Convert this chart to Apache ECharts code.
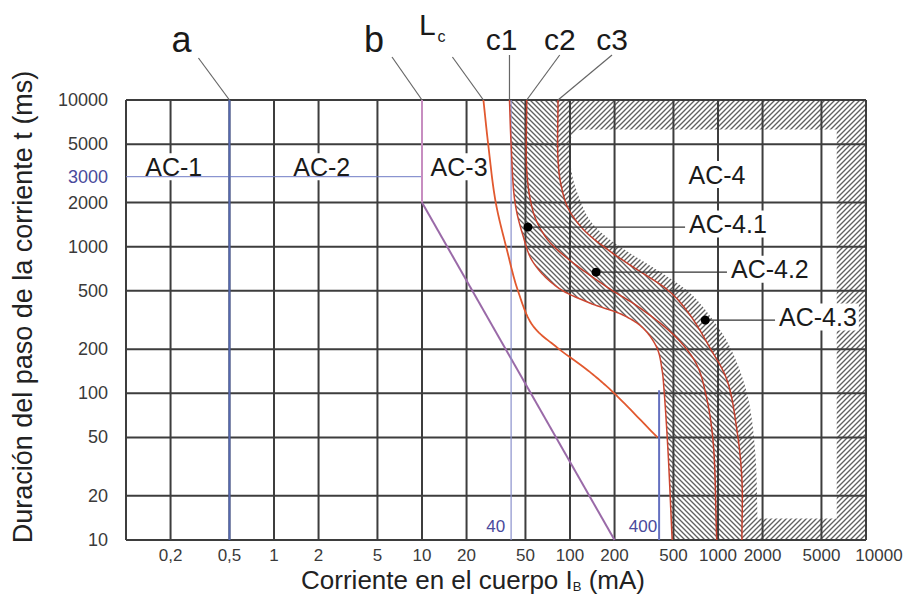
<!DOCTYPE html>
<html lang="es">
<head>
<meta charset="utf-8">
<title>Zonas tiempo-corriente</title>
<script src="https://cdn.jsdelivr.net/npm/echarts@6.0.0/dist/echarts.min.js"></script>
<style>
html,body{margin:0;padding:0;background:#fff;}
#chart{width:908px;height:600px;}
</style>
</head>
<body>
<div id="chart"></div>
<script>
// ---------------- data ----------------
const xGridValues = [0.1, 0.2, 0.5, 1, 2, 5, 10, 20, 50, 100, 200, 500, 1000, 2000, 5000, 10000];
const yGridValues = [10, 20, 50, 100, 200, 500, 1000, 2000, 5000, 10000];
const xTickValues = [0.2, 0.5, 1, 2, 5, 10, 20, 50, 100, 200, 500, 1000, 2000, 5000, 10000];
const xTickLabels = ['0,2', '0,5', '1', '2', '5', '10', '20', '50', '100', '200', '500', '1000', '2000', '5000', '10000'];
const yTickValues = [10, 20, 50, 100, 200, 500, 1000, 2000, 3000, 5000, 10000];
const yTickLabels = ['10', '20', '50', '100', '200', '500', '1000', '2000', '3000', '5000', '10000'];

const curveA = [[0.5, 10], [0.5, 10000]];
const curveBVertical = [[10, 10000], [10, 2000]];
const curveBDiagonal = [[10, 2000], [200, 10]];
const line40 = [[40, 10], [40, 10000]];
const line400 = [[400, 10], [400, 105]];
const line3000 = [[0.1, 3000], [10, 3000]];

const curveLc = [[26, 10000], [28, 5000], [31.5, 2000], [37.5, 950], [44.5, 500], [56, 290], [82, 205], [136, 140], [195, 102], [390, 50]];
const curveC1 = [[39, 10000], [40, 5000], [42.5, 2000], [48, 1200], [56, 790], [82, 530], [136, 413], [228, 342], [311, 279], [387, 204], [419, 144], [432, 105], [459, 41], [490, 10]];
const curveC2 = [[51, 10000], [51, 3300], [54, 2080], [59, 1520], [71, 1110], [95, 840], [178, 530], [297, 382], [528, 238], [720, 156], [830, 97], [925, 48], [980, 10]];
const curveC3 = [[83, 10000], [83, 3900], [87, 2630], [97, 1835], [124, 1300], [181, 950], [254, 750], [474, 491], [647, 342], [883, 204], [1150, 123], [1343, 56], [1450, 26], [1450, 10]];
const bandOuter = [[100, 10000], [102, 3330], [117, 2080], [136, 1520], [170, 1200], [247, 920], [387, 693], [647, 483], [925, 316], [1205, 207], [1570, 100], [1780, 41], [1860, 10]];
const innerFrameCorners = [[6340, 6300], [6340, 14]];

const zoneNames = ['AC-1', 'AC-2', 'AC-3', 'AC-4'];
const zonePoints = [[0.21, 3500], [2.1, 3500], [17.8, 3500], [984, 3100]];
const subZoneNames = ['AC-4.1', 'AC-4.2', 'AC-4.3'];
const subZoneDots = [[52, 1360], [150, 670], [820, 316]];
const subZoneLabelX = [618, 1186, 2506];

const curveNames = ['a', 'b', 'L', 'c1', 'c2', 'c3'];
const curveTops = [curveA[1], curveBVertical[0], curveLc[0], curveC1[0], curveC2[0], curveC3[0]];

// ---------------- helpers ----------------
const X_MIN = 0.1, X_MAX = 10000, Y_MIN = 10, Y_MAX = 10000;
const FONT = '"Liberation Sans", Arial, Helvetica, sans-serif';

function hatch(forward) {
  const s = 5;
  const c = document.createElement('canvas');
  c.width = s; c.height = s;
  const g = c.getContext('2d');
  g.fillStyle = '#ffffff'; g.fillRect(0, 0, s, s);
  g.strokeStyle = '#606060'; g.lineWidth = 1.35;
  g.beginPath();
  if (forward) {
    g.moveTo(0, s); g.lineTo(s, 0);
    g.moveTo(-1, 1); g.lineTo(1, -1);
    g.moveTo(s - 1, s + 1); g.lineTo(s + 1, s - 1);
  } else {
    g.moveTo(0, 0); g.lineTo(s, s);
    g.moveTo(s - 1, -1); g.lineTo(s + 1, 1);
    g.moveTo(-1, s - 1); g.lineTo(1, s + 1);
  }
  g.stroke();
  return { image: c.toDataURL(), repeat: 'repeat', imageWidth: s, imageHeight: s };
}
const hatchFwd = hatch(true);
const hatchBack = hatch(false);

function cr(p0, p1, p2, p3, t) {
  const d = (a, b) => Math.max(Math.sqrt(Math.hypot(b[0] - a[0], b[1] - a[1])), 1e-3);
  const t0 = 0, t1 = d(p0, p1), t2 = t1 + d(p1, p2), t3 = t2 + d(p2, p3);
  const u = t1 + (t2 - t1) * t;
  const L = (a, b, ta, tb) => { const w = (u - ta) / (tb - ta); return [a[0] + (b[0] - a[0]) * w, a[1] + (b[1] - a[1]) * w]; };
  const A1 = L(p0, p1, t0, t1), A2 = L(p1, p2, t1, t2), A3 = L(p2, p3, t2, t3);
  const B1 = L(A1, A2, t0, t2), B2 = L(A2, A3, t1, t3);
  return L(B1, B2, t1, t2);
}
function smoothPath(px, steps) {
  const n = px.length;
  if (n < 3) return px.slice();
  const ext = [[2 * px[0][0] - px[1][0], 2 * px[0][1] - px[1][1]]].concat(px, [[2 * px[n - 1][0] - px[n - 2][0], 2 * px[n - 1][1] - px[n - 2][1]]]);
  const out = [];
  for (let i = 1; i < ext.length - 2; i++) {
    for (let s = 0; s < steps; s++) out.push(cr(ext[i - 1], ext[i], ext[i + 1], ext[i + 2], s / steps));
  }
  out.push(px[n - 1]);
  return out;
}
const toPx = (api, pts) => pts.map(p => api.coord(p));
function quad(a, c, b, n) {
  const out = [];
  for (let i = 0; i <= n; i++) {
    const t = i / n, u = 1 - t;
    out.push([u * u * a[0] + 2 * u * t * c[0] + t * t * b[0], u * u * a[1] + 2 * u * t * c[1] + t * t * b[1]]);
  }
  return out;
}

function curveSeries(name, pts, color, width) {
  return {
    type: 'custom', name: name, z: 5, silent: true, clip: true, data: pts,
    renderItem: (params, api) => {
      if (params.dataIndex !== 0) return null;
      return { type: 'polyline', shape: { points: smoothPath(toPx(api, pts), 14) },
        style: { stroke: color, lineWidth: width, fill: null } };
    }
  };
}
function straight(name, data, color, width) {
  return { type: 'line', name: name, data: data, z: 4, symbol: 'none', silent: true,
    lineStyle: { color: color, width: width }, animation: false };
}

const curveLabelLayout = [
  { lx: -31, ly: -42, tx: -48, ty: -61, fs: 36 },
  { lx: -30, ly: -43, tx: -48, ty: -61, fs: 36 },
  { lx: -31, ly: -43, tx: -56, ty: -76, fs: 30 },
  { lx: 0, ly: -45, tx: -8, ty: -61, fs: 30 },
  { lx: 33, ly: -45, tx: 33, ty: -61, fs: 30 },
  { lx: 54, ly: -45, tx: 54, ty: -61, fs: 30 }
];

// ---------------- chart ----------------
const chart = echarts.init(document.getElementById('chart'), null, { renderer: 'svg' });

const option = {
  animation: false,
  backgroundColor: '#ffffff',
  textStyle: { fontFamily: FONT },
  grid: { left: 126, right: 42, top: 100, bottom: 60, containLabel: false },
  xAxis: {
    type: 'log', logBase: 10, min: X_MIN, max: X_MAX,
    axisLine: { show: false }, axisTick: { show: false }, axisLabel: { show: false }, splitLine: { show: false },
    name: 'Corriente en el cuerpo I{sub|B} (mA)', nameLocation: 'middle', nameGap: 27,
    nameTextStyle: { fontSize: 26, color: '#222', fontFamily: FONT, padding: [0, 46, 0, 0],
      rich: { sub: { fontSize: 13, color: '#222', fontFamily: FONT, verticalAlign: 'bottom', lineHeight: 12 } } }
  },
  yAxis: {
    type: 'log', logBase: 10, min: Y_MIN, max: Y_MAX,
    axisLine: { show: false }, axisTick: { show: false }, axisLabel: { show: false }, splitLine: { show: false },
    name: 'Duración del paso de la corriente t (ms)', nameLocation: 'middle', nameRotate: 90, nameGap: 90,
    nameTextStyle: { fontSize: 27, color: '#222', fontFamily: FONT, padding: [0, 0, 0, 26] }
  },
  series: [
    {
      type: 'custom', name: 'zonas', z: 1, silent: true, clip: true, data: [curveC1[0]],
      renderItem: (params, api) => {
        const c1 = smoothPath(toPx(api, curveC1), 14);
        const c3 = smoothPath(toPx(api, curveC3), 14);
        const outer = smoothPath(toPx(api, bandOuter), 14);
        const tr = api.coord([X_MAX, Y_MAX]), br = api.coord([X_MAX, Y_MIN]);
        const hTop = api.coord(innerFrameCorners[0]), hBot = api.coord(innerFrameCorners[1]);
        const r = 14;
        const mid = outer.filter(p => p[1] > hTop[1] + r && p[1] < hBot[1]);
        const x0 = mid[0][0];
        const corner = quad([x0 + r, hTop[1]], [x0, hTop[1]], mid[0], 8);
        const hole = corner.concat(mid, [[mid[mid.length - 1][0], hBot[1]], [hBot[0], hBot[1]], [hTop[0], hTop[1]]]);
        const outerPoly = c3.concat([br, tr]);
        const bandPoly = c1.concat(c3.slice().reverse());
        return { type: 'group', children: [
          { type: 'polygon', shape: { points: outerPoly }, style: { fill: hatchFwd, stroke: null } },
          { type: 'polygon', shape: { points: hole }, style: { fill: '#ffffff', stroke: null } },
          { type: 'polygon', shape: { points: bandPoly }, style: { fill: hatchBack, stroke: null } }
        ] };
      }
    },
    {
      type: 'custom', name: 'rejilla-x', z: 2, silent: true, data: xGridValues.map(v => [v, Y_MIN]),
      renderItem: (params, api) => {
        const a = api.coord([api.value(0), Y_MIN]), b = api.coord([api.value(0), Y_MAX]);
        return { type: 'line', shape: { x1: a[0], y1: a[1], x2: b[0], y2: b[1] }, style: { stroke: '#3d3d3d', lineWidth: 2 } };
      }
    },
    {
      type: 'custom', name: 'rejilla-y', z: 2, silent: true, data: yGridValues.map(v => [X_MIN, v]),
      renderItem: (params, api) => {
        const a = api.coord([X_MIN, api.value(1)]), b = api.coord([X_MAX, api.value(1)]);
        return { type: 'line', shape: { x1: a[0], y1: a[1], x2: b[0], y2: b[1] }, style: { stroke: '#3d3d3d', lineWidth: 2 } };
      }
    },
    {
      type: 'custom', name: 'zonas-texto', z: 3, silent: true, data: zonePoints,
      renderItem: (params, api) => {
        const c = api.coord(zonePoints[params.dataIndex]);
        return { type: 'text', x: c[0], y: c[1], style: { text: zoneNames[params.dataIndex], fontSize: 25, fontFamily: FONT,
          fill: '#1a1a1a', align: 'center', verticalAlign: 'middle', backgroundColor: '#ffffff', padding: [1, 3, 1, 3] } };
      }
    },
    straight('3000 ms', line3000, '#6f7cc6', 1),
    straight('a', curveA, '#5468b0', 2),
    straight('b', curveBVertical, '#c78dc0', 2),
    straight('b ', curveBDiagonal, '#9a6aa8', 2),
    straight('40 mA', line40, '#8a90cc', 1.2),
    straight('400 mA', line400, '#6470c0', 2),
    curveSeries('Lc', curveLc, '#e2592f', 1.8),
    curveSeries('c1', curveC1, '#cc4530', 1.5),
    curveSeries('c2', curveC2, '#c23e2c', 1.5),
    curveSeries('c3', curveC3, '#c23e2c', 1.5),
    {
      type: 'custom', name: 'subzonas', z: 6, silent: true, data: subZoneDots,
      renderItem: (params, api) => {
        const i = params.dataIndex;
        const d = api.coord(subZoneDots[i]);
        const lx = api.coord([subZoneLabelX[i], subZoneDots[i][1]])[0];
        return { type: 'group', children: [
          { type: 'line', shape: { x1: d[0], y1: d[1], x2: lx - 2, y2: d[1] }, style: { stroke: '#333', lineWidth: 1.3 } },
          { type: 'circle', shape: { cx: d[0], cy: d[1], r: 4.5 }, style: { fill: '#000' } },
          { type: 'text', x: lx, y: d[1] - 3, style: { text: subZoneNames[i], fontSize: 25, fontFamily: FONT, fill: '#1a1a1a',
            align: 'left', verticalAlign: 'middle', backgroundColor: '#ffffff', padding: [1, 2, 1, 2] } }
        ] };
      }
    },
    {
      type: 'custom', name: 'curvas-nombres', z: 6, silent: true, data: curveTops,
      renderItem: (params, api) => {
        const i = params.dataIndex;
        const p = api.coord(curveTops[i]);
        const L = curveLabelLayout[i];
        const children = [
          { type: 'line', shape: { x1: p[0] + L.lx, y1: p[1] + L.ly, x2: p[0], y2: p[1] }, style: { stroke: '#666', lineWidth: 1.2 } },
          { type: 'text', x: p[0] + L.tx, y: p[1] + L.ty, style: { text: curveNames[i], fontSize: L.fs, fontFamily: FONT, fill: '#1a1a1a',
            align: 'center', verticalAlign: 'middle' } }
        ];
        if (curveNames[i] === 'L') {
          children.push({ type: 'text', x: p[0] + L.tx + 14, y: p[1] + L.ty + 12, style: { text: 'c', fontSize: 16, fontFamily: FONT,
            fill: '#1a1a1a', align: 'center', verticalAlign: 'middle' } });
        }
        return { type: 'group', children: children };
      }
    },
    {
      type: 'custom', name: 'eje-x', z: 6, silent: true, data: xTickValues.map(v => [v, Y_MIN]),
      renderItem: (params, api) => {
        const c = api.coord([api.value(0), Y_MIN]);
        const last = params.dataIndex === xTickValues.length - 1;
        return { type: 'text', x: c[0] + (last ? 13 : 0), y: c[1] + 15, style: { text: xTickLabels[params.dataIndex], fontSize: 17, fontFamily: FONT,
          fill: '#3a3a3a', align: 'center', verticalAlign: 'middle' } };
      }
    },
    {
      type: 'custom', name: 'eje-y', z: 6, silent: true, data: yTickValues.map(v => [X_MIN, v]),
      renderItem: (params, api) => {
        const c = api.coord([X_MIN, api.value(1)]);
        const lab = yTickLabels[params.dataIndex];
        return { type: 'text', x: c[0] - 18, y: c[1], style: { text: lab, fontSize: 18, fontFamily: FONT,
          fill: lab === '3000' ? '#4a4a9c' : '#3a3a3a', align: 'right', verticalAlign: 'middle' } };
      }
    },
    {
      type: 'custom', name: 'marcas-corriente', z: 6, silent: true, data: [line40[0], line400[0]],
      renderItem: (params, api) => {
        const src = params.dataIndex === 0 ? line40[0] : line400[0];
        const c = api.coord(src);
        return { type: 'text', x: c[0] - (params.dataIndex === 0 ? 6 : 2), y: c[1] - 14,
          style: { text: String(src[0]), fontSize: 17, fontFamily: FONT, fill: '#4a4a9c', align: 'right', verticalAlign: 'middle' } };
      }
    }
  ]
};
chart.setOption(option);
</script>
</body>
</html>
